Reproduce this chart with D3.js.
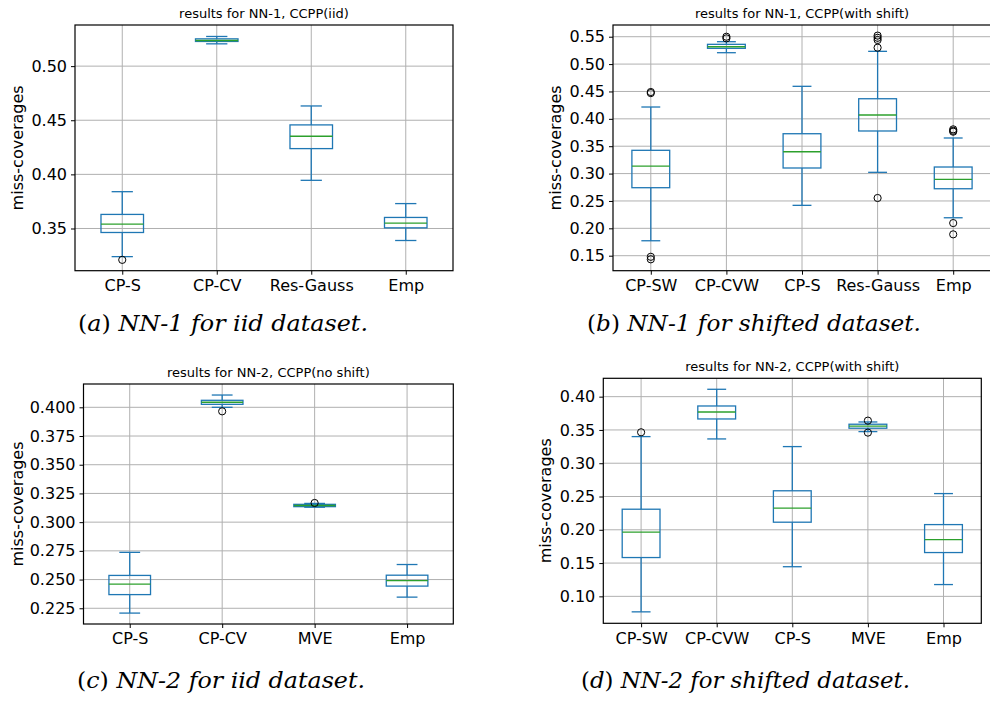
<!DOCTYPE html>
<html>
<head>
<meta charset="utf-8">
<script src="https://cdn.jsdelivr.net/npm/d3@7"></script>
<style>
  body { margin: 0; background: #fff; }
  svg { display: block; }
  text { font-family: "DejaVu Sans", sans-serif; fill: #000; }
</style>
</head>
<body>
<svg id="fig" width="990" height="702"></svg>
<script>
// box stats: [lower whisker, q1, median, q3, upper whisker]
var catsA = ["CP-S", "CP-CV", "Res-Gauss", "Emp"];
var statsA = [
    [0.324, 0.3463, 0.354, 0.363, 0.384],
    [0.5206, 0.5228, 0.5237, 0.5252, 0.5274],
    [0.3945, 0.4238, 0.4352, 0.4457, 0.4632],
    [0.3389, 0.3506, 0.3549, 0.3602, 0.373]
];
var outliersA = [[0.321], [], [], []];
var ticksA = [0.35, 0.40, 0.45, 0.50];

var catsB = ["CP-SW", "CP-CVW", "CP-S", "Res-Gauss", "Emp"];
var statsB = [
    [0.1773, 0.2742, 0.3138, 0.3425, 0.4216],
    [0.5208, 0.5288, 0.5317, 0.5361, 0.5409],
    [0.242, 0.3102, 0.3399, 0.3728, 0.4594],
    [0.3023, 0.3778, 0.407, 0.4367, 0.5233],
    [0.2193, 0.2723, 0.2895, 0.312, 0.365]
];
var outliersB = [
    [0.447, 0.449, 0.148, 0.1434],
    [0.55, 0.547],
    [],
    [0.552, 0.548, 0.544, 0.530, 0.2554],
    [0.3808, 0.3783, 0.3765, 0.2096, 0.189]
];
var ticksB = [0.15, 0.20, 0.25, 0.30, 0.35, 0.40, 0.45, 0.50, 0.55];

var catsC = ["CP-S", "CP-CV", "MVE", "Emp"];
var statsC = [
    [0.2208, 0.2369, 0.2461, 0.2536, 0.2737],
    [0.400, 0.4026, 0.4044, 0.4061, 0.4107],
    [0.313, 0.3135, 0.3145, 0.3155, 0.3163],
    [0.2347, 0.2443, 0.2491, 0.2538, 0.2631]
];
var outliersC = [[], [0.3965], [0.3167], []];
var ticksC = [0.225, 0.250, 0.275, 0.300, 0.325, 0.350, 0.375, 0.400];

var catsD = ["CP-SW", "CP-CVW", "CP-S", "MVE", "Emp"];
var statsD = [
    [0.0767, 0.1583, 0.1964, 0.2309, 0.340],
    [0.3365, 0.3665, 0.377, 0.386, 0.4111],
    [0.1445, 0.2114, 0.2324, 0.2586, 0.325],
    [0.3475, 0.3526, 0.3556, 0.3586, 0.362],
    [0.1177, 0.1658, 0.1853, 0.2078, 0.2544]
];
var outliersD = [[0.3465], [], [], [0.364, 0.346], []];
var ticksD = [0.10, 0.15, 0.20, 0.25, 0.30, 0.35, 0.40];

var svg = d3.select("#fig");
var blue = "#1f77b4", green = "#2ca02c";

function drawPanel(p) {
    var g = svg.append("g");
    var n = p.cats.length;

    var x = d3.scaleLinear().domain([0.5, n + 0.5]).range([p.left, p.right]);
    var y = d3.scaleLinear().domain(p.ydomain).range([p.bottom, p.top]);
    // matplotlib default box width
    var bw = Math.min(0.15 * (n - 1), 0.5);
    var half = (x(1 + bw / 2) - x(1));
    var capHalf = half / 2;

    // grid
    g.append("g").selectAll("line").data(p.ticks).enter().append("line")
        .attr("x1", p.left).attr("x2", p.right)
        .attr("y1", d => y(d)).attr("y2", d => y(d))
        .attr("stroke", "#b0b0b0").attr("stroke-width", 1);
    g.append("g").selectAll("line").data(p.cats).enter().append("line")
        .attr("x1", (d, i) => x(i + 1)).attr("x2", (d, i) => x(i + 1))
        .attr("y1", p.top).attr("y2", p.bottom)
        .attr("stroke", "#b0b0b0").attr("stroke-width", 1);

    // axes
    g.append("g")
        .attr("transform", "translate(" + p.left + ",0)")
        .call(d3.axisLeft(y).tickValues(p.ticks).tickFormat(d3.format(p.fmt)).tickSize(4).tickPadding(4))
        .call(a => a.select(".domain").remove())
        .selectAll("text").style("font-size", "16px").style("font-family", "DejaVu Sans");

    g.append("g")
        .attr("transform", "translate(0," + p.bottom + ")")
        .call(d3.axisBottom(x).tickValues(d3.range(1, n + 1)).tickFormat((d, i) => p.cats[i]).tickSize(4).tickPadding(5))
        .call(a => a.select(".domain").remove())
        .selectAll("text").style("font-size", "16px").style("font-family", "DejaVu Sans");

    // boxes
    var boxes = g.append("g").selectAll("g").data(p.stats).enter().append("g");
    boxes.append("line") // whiskers
        .attr("x1", (d, i) => x(i + 1)).attr("x2", (d, i) => x(i + 1))
        .attr("y1", d => y(d[3])).attr("y2", d => y(d[4]))
        .attr("stroke", blue).attr("stroke-width", 1.3);
    boxes.append("line")
        .attr("x1", (d, i) => x(i + 1)).attr("x2", (d, i) => x(i + 1))
        .attr("y1", d => y(d[0])).attr("y2", d => y(d[1]))
        .attr("stroke", blue).attr("stroke-width", 1.3);
    boxes.append("line") // caps
        .attr("x1", (d, i) => x(i + 1) - capHalf).attr("x2", (d, i) => x(i + 1) + capHalf)
        .attr("y1", d => y(d[4])).attr("y2", d => y(d[4]))
        .attr("stroke", blue).attr("stroke-width", 1.3);
    boxes.append("line")
        .attr("x1", (d, i) => x(i + 1) - capHalf).attr("x2", (d, i) => x(i + 1) + capHalf)
        .attr("y1", d => y(d[0])).attr("y2", d => y(d[0]))
        .attr("stroke", blue).attr("stroke-width", 1.3);
    boxes.append("rect")
        .attr("x", (d, i) => x(i + 1) - half).attr("width", half * 2)
        .attr("y", d => y(d[3])).attr("height", d => y(d[1]) - y(d[3]))
        .attr("fill", "none").attr("stroke", blue).attr("stroke-width", 1.3);
    boxes.append("line") // median
        .attr("x1", (d, i) => x(i + 1) - half).attr("x2", (d, i) => x(i + 1) + half)
        .attr("y1", d => y(d[2])).attr("y2", d => y(d[2]))
        .attr("stroke", green).attr("stroke-width", 1.3);

    // outliers
    p.outliers.forEach(function (vals, i) {
        g.selectAll(null).data(vals).enter().append("circle")
            .attr("cx", x(i + 1)).attr("cy", d => y(d)).attr("r", 3.6)
            .attr("fill", "none").attr("stroke", "#000").attr("stroke-width", 1);
    });

    // frame
    g.append("rect")
        .attr("x", p.left).attr("y", p.top)
        .attr("width", p.right - p.left).attr("height", p.bottom - p.top)
        .attr("fill", "none").attr("stroke", "#000").attr("stroke-width", 1.2);

    // title and y label
    g.append("text")
        .attr("x", (p.left + p.right) / 2).attr("y", p.top - 7)
        .attr("text-anchor", "middle").style("font-size", "13px")
        .text(p.title);
    g.append("text")
        .attr("transform", "translate(" + p.ylabelX + "," + (p.top + p.bottom) / 2 + ") rotate(-90)")
        .attr("text-anchor", "middle").attr("dy", "0.35em").style("font-size", "16px")
        .text("miss-coverages");

    // caption
    var cap = svg.append("text")
        .attr("x", p.capX).attr("y", p.capY)
        .attr("textLength", p.capW).attr("lengthAdjust", "spacingAndGlyphs")
        .style("font-family", "'DejaVu Serif', serif").style("font-size", "23px");
    cap.append("tspan").text("(");
    cap.append("tspan").style("font-style", "italic").text(p.capLetter);
    cap.append("tspan").text(") ");
    cap.append("tspan").style("font-style", "italic").text(p.capText);
}

drawPanel({
    cats: catsA, stats: statsA, outliers: outliersA, ticks: ticksA, fmt: ".2f",
    left: 75, right: 453, top: 25, bottom: 270.7, ydomain: [0.311, 0.538],
    title: "results for NN-1, CCPP(iid)", ylabelX: 17,
    capX: 78, capY: 331, capW: 290, capLetter: "a", capText: "NN-1 for iid dataset."
});
drawPanel({
    cats: catsB, stats: statsB, outliers: outliersB, ticks: ticksB, fmt: ".2f",
    left: 613, right: 991, top: 25, bottom: 270.7, ydomain: [0.1226, 0.5714],
    title: "results for NN-1, CCPP(with shift)", ylabelX: 555,
    capX: 587, capY: 331, capW: 334, capLetter: "b", capText: "NN-1 for shifted dataset."
});
drawPanel({
    cats: catsC, stats: statsC, outliers: outliersC, ticks: ticksC, fmt: ".3f",
    left: 83.5, right: 453.3, top: 384, bottom: 624, ydomain: [0.2113, 0.4203],
    title: "results for NN-2, CCPP(no shift)", ylabelX: 17,
    capX: 77, capY: 688, capW: 288, capLetter: "c", capText: "NN-2 for iid dataset."
});
drawPanel({
    cats: catsD, stats: statsD, outliers: outliersD, ticks: ticksD, fmt: ".2f",
    left: 603.3, right: 981.3, top: 378.3, bottom: 623.3, ydomain: [0.0595, 0.4276],
    title: "results for NN-2, CCPP(with shift)", ylabelX: 545,
    capX: 581, capY: 688, capW: 329, capLetter: "d", capText: "NN-2 for shifted dataset."
});
</script>
</body>
</html>
